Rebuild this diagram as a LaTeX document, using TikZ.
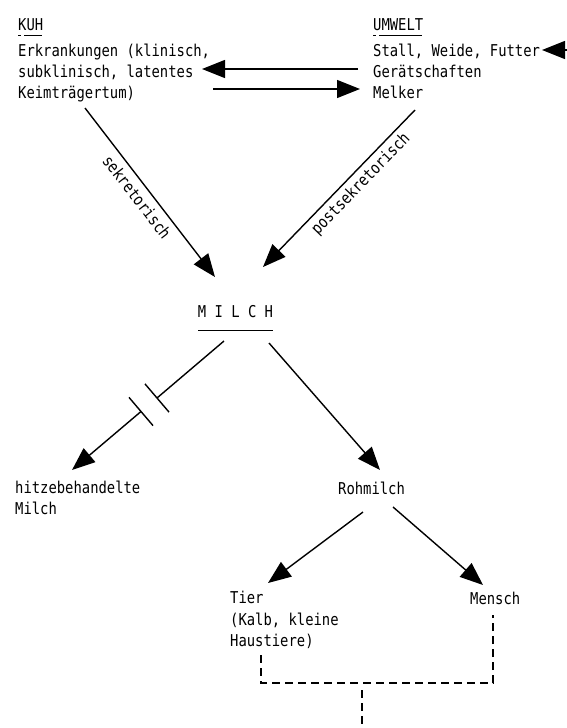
\documentclass[tikz,border=0pt]{standalone}
\usepackage{fontspec}
\setmainfont[FakeStretch=0.85]{DejaVu Sans Mono}
\usetikzlibrary{arrows.meta}
\tikzset{
  txt/.style={inner sep=0pt, anchor=base west, font=\fontsize{16.3}{20}\selectfont},
  lbl/.style={inner sep=0pt, anchor=center, font=\fontsize{16.3}{20}\selectfont},
  conn/.style={line width=1.4pt},
  arr/.style={line width=1.4pt, -{Triangle[length=23pt,width=18pt]}},
  dsh/.style={line width=1.4pt, dash pattern=on 8pt off 5pt},
  uline/.style={line width=0.8pt},
}
\begin{document}
\begin{tikzpicture}[x=1pt,y=-1pt]
\useasboundingbox[fill=white] (0,0) rectangle (567,728);
% KUH block
\node[txt] (kuh)  at (18,30) {KUH};
\node[txt] (kuhA) at (18,56) {Erkrankungen (klinisch,};
\node[txt] (kuhB) at (18,77) {subklinisch, latentes};
\node[txt] (kuhC) at (18,98) {Keimträgertum)};
\draw[uline] (18,35) -- (21,35) (24,35) -- (42,35);
% UMWELT block
\node[txt] (umw)  at (373,30) {UMWELT};
\node[txt] (umwA) at (373,56) {Stall, Weide, Futter};
\node[txt] (umwB) at (373,77) {Gerätschaften};
\node[txt] (umwC) at (373,98) {Melker};
\draw[uline] (373,35) -- (376,35) (379,35) -- (422,35);
% MILCH
\node[lbl, anchor=base] (milch) at (235.5,317) {M I L C H};
\draw[uline] (198,330) -- (273,330);
% lower texts
\node[txt] (hitzeA) at (15,493) {hitzebehandelte};
\node[txt] (hitzeB) at (15,514) {Milch};
\node[txt] (roh) at (338,494) {Rohmilch};
\node[txt] (tierA) at (230,603) {Tier};
\node[txt] (tierB) at (230,625) {(Kalb, kleine};
\node[txt] (tierC) at (230,646) {Haustiere)};
\node[txt] (mensch) at (470,604) {Mensch};
% coordinates for connectors
\coordinate (uL1) at (358,69);  \coordinate (kR1) at (202,69);
\coordinate (kR2) at (213,89);  \coordinate (uL2) at (360,89);
\coordinate (edge) at (567,50); \coordinate (uR) at (542,50);
\coordinate (kB) at (85,108);   \coordinate (mT1) at (215,277);
\coordinate (uB) at (415,110);  \coordinate (mT2) at (263,267);
\coordinate (mB1) at (224,341); \coordinate (hT) at (72,470);
\coordinate (b1) at (157,398);  \coordinate (b2) at (141,411.5);
\coordinate (mB2) at (269,343); \coordinate (rT) at (380,470);
\coordinate (rB1) at (363,512); \coordinate (tT) at (268,583);
\coordinate (rB2) at (393,507); \coordinate (meT) at (483,585);
\coordinate (tB) at (261,655);  \coordinate (jl) at (261,683);
\coordinate (jr) at (493,683);  \coordinate (meB) at (493,615);
\coordinate (jm) at (362,690);  \coordinate (out) at (362,728);
% connectors
\draw[arr] (uL1) -- (kR1);
\draw[arr] (kR2) -- (uL2);
\draw[arr] (edge) -- (uR);
\draw[arr] (kB) -- (mT1);
\draw[arr] (uB) -- (mT2);
\node[lbl, rotate=-52.4] (sek) at (137,197) {sekretorisch};
\node[lbl, rotate=46] (post) at (361,184) {postsekretorisch};
\draw[conn] (mB1) -- (b1);
\draw[arr] (b2) -- (hT);
\draw[conn, shift={(b1)}] (-12,-14.1) -- (12,14.1);
\draw[conn, shift={(b2)}] (-12,-14.1) -- (12,14.1);
\draw[arr] (mB2) -- (rT);
\draw[arr] (rB1) -- (tT);
\draw[arr] (rB2) -- (meT);
\draw[dsh] (tB) -- (jl) -- (jr) -- (meB);
\draw[dsh] (jm) -- (out);
\end{tikzpicture}
\end{document}
